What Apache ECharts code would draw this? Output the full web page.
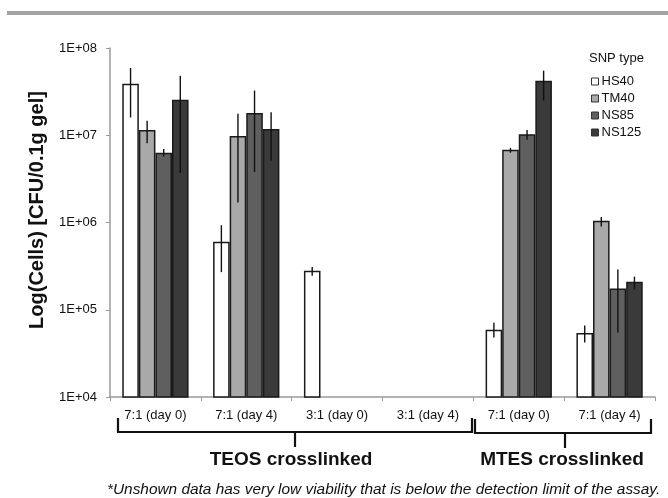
<!DOCTYPE html>
<html>
<head>
<meta charset="utf-8">
<script src="https://cdn.jsdelivr.net/npm/echarts@6/dist/echarts.min.js"></script>
<style>
  html, body { margin: 0; padding: 0; background: #fff; }
  #chart { width: 668px; height: 498px; }
</style>
</head>
<body>
<div id="chart"></div>
<script>
// Sample groups along the x axis
const categories = ['7:1 (day 0)', '7:1 (day 4)', '3:1 (day 0)', '3:1 (day 4)', '7:1 (day 0)', '7:1 (day 4)'];

// Silica nanoparticle types
const snpTypes = ['HS40', 'TM40', 'NS85', 'NS125'];

// Mean viable cell counts (CFU / 0.1 g gel); null = below detection limit
const hs40  = [3.9e7, 6.0e5, 2.8e5, null, 5.9e4, 5.4e4];
const tm40  = [1.15e7, 9.8e6, null, null, 6.8e6, 1.05e6];
const ns85  = [6.3e6, 1.8e7, null, null, 1.03e7, 1.75e5];
const ns125 = [2.55e7, 1.18e7, null, null, 4.2e7, 2.1e5];

// Error bar extents (low, high) per series
const hs40Low   = [1.6e7, 2.7e5, 2.45e5, null, 4.8e4, 4.2e4];
const hs40High  = [5.9e7, 9.3e5, 3.1e5, null, 7.1e4, 6.6e4];
const tm40Low   = [8.1e6, 1.7e6, null, null, 6.3e6, 9.0e5];
const tm40High  = [1.47e7, 1.76e7, null, null, 7.15e6, 1.16e6];
const ns85Low   = [5.7e6, 3.8e6, null, null, 8.9e6, 5.5e4];
const ns85High  = [6.95e6, 3.25e7, null, null, 1.15e7, 2.9e5];
const ns125Low  = [3.7e6, 5.1e6, null, null, 2.5e7, 1.7e5];
const ns125High = [4.8e7, 1.84e7, null, null, 5.5e7, 2.4e5];

// Y axis decade labels
const yTickLabels = ['1E+04', '1E+05', '1E+06', '1E+07', '1E+08'];

const seriesValues = [hs40, tm40, ns85, ns125];
const seriesLow = [hs40Low, tm40Low, ns85Low, ns125Low];
const seriesHigh = [hs40High, tm40High, ns85High, ns125High];
const fills = ['#ffffff', '#a9a9a9', '#5f5f5f', '#3a3a3a'];

const FONT = 'Arial, "Liberation Sans", sans-serif';
const CAT_GAP = 0.27;

const chart = echarts.init(document.getElementById('chart'), null, { renderer: 'canvas' });

const barSeries = snpTypes.map((name, i) => ({
  name: name,
  type: 'bar',
  data: seriesValues[i],
  barGap: '0%',
  barCategoryGap: (CAT_GAP * 100) + '%',
  itemStyle: { color: fills[i], borderColor: '#1a1a1a', borderWidth: 1.5 },
  emphasis: { disabled: true },
  z: 2
}));

// Vertical error bars centred on each bar
const errorSeries = snpTypes.map((name, i) => ({
  type: 'custom',
  name: name + ' error',
  data: categories.map((c, k) => [k, seriesLow[i][k], seriesHigh[i][k]]),
  z: 5,
  silent: true,
  renderItem: function (params, api) {
    const lo = api.value(1), hi = api.value(2);
    if (lo == null || hi == null || isNaN(lo) || isNaN(hi)) return null;
    const k = api.value(0);
    const band = api.size([1, 1])[0];
    const w = band * (1 - CAT_GAP) / snpTypes.length;
    const pLo = api.coord([k, lo]);
    const pHi = api.coord([k, hi]);
    const x = pLo[0] + (i - (snpTypes.length - 1) / 2) * w;
    return {
      type: 'line',
      shape: { x1: x, y1: pLo[1], x2: x, y2: pHi[1] },
      style: { stroke: '#111', lineWidth: 1.4 }
    };
  }
}));

// Square bracket grouping the categories of one crosslinker, with a centre tick
function brace(x1, x2, xm, yTop, yLine, yTip) {
  return [
    {
      type: 'polyline',
      shape: { points: [[x1, yTop], [x1, yLine], [x2, yLine], [x2, yTop]] },
      style: { stroke: '#111', lineWidth: 2.2, fill: null }
    },
    { type: 'line', shape: { x1: xm, y1: yLine, x2: xm, y2: yTip }, style: { stroke: '#111', lineWidth: 2.2 } }
  ];
}

const option = {
  animation: false,
  backgroundColor: '#ffffff',
  grid: { left: 110, top: 48, right: 13, bottom: 101, containLabel: false },
  legend: {
    data: snpTypes,
    orient: 'vertical',
    left: 586,
    top: 70,
    icon: 'rect',
    itemWidth: 7,
    itemHeight: 7,
    itemGap: 4,
    itemStyle: { borderColor: '#333', borderWidth: 1 },
    textStyle: { fontFamily: FONT, fontSize: 13, color: '#111', padding: [0, 0, 0, -2] },
    selectedMode: false
  },
  xAxis: {
    type: 'category',
    data: categories,
    axisLine: { lineStyle: { color: '#9a9a9a', width: 1.5 } },
    axisTick: { show: true, length: 4, lineStyle: { color: '#9a9a9a' } },
    axisLabel: { fontFamily: FONT, fontSize: 13, color: '#111', margin: 12 },
    splitLine: { show: false }
  },
  yAxis: {
    type: 'log',
    logBase: 10,
    min: 1e4,
    max: 1e8,
    axisLine: { show: true, lineStyle: { color: '#9a9a9a', width: 1.5 } },
    axisTick: { show: true, length: 4, lineStyle: { color: '#9a9a9a' } },
    axisLabel: {
      fontFamily: FONT, fontSize: 13, color: '#111', margin: 13,
      formatter: function (v) {
        const e = Math.round(Math.log10(v));
        return yTickLabels[e - 4];
      }
    },
    splitLine: { show: false }
  },
  series: barSeries.concat(errorSeries),
  graphic: [
    { type: 'rect', left: 7, top: 11, shape: { width: 661, height: 4 }, style: { fill: '#a3a3a3' } },
    { type: 'text', left: 589, top: 52, style: { text: 'SNP type', fontFamily: FONT, fontSize: 13, fill: '#111' } },
    // y axis title, rotated to read bottom-to-top
    { type: 'text', x: 37, y: 210, rotation: Math.PI / 2,
      style: { text: 'Log(Cells) [CFU/0.1g gel]', fontFamily: FONT, fontSize: 20, fontWeight: 'bold', fill: '#111', align: 'center', verticalAlign: 'middle' } }
  ].concat(
    brace(118, 472, 295, 418, 432, 447),
    brace(475, 651, 565, 419, 433, 448),
    [
      { type: 'text', x: 291, y: 460, style: { text: 'TEOS crosslinked', fontFamily: FONT, fontSize: 19, fontWeight: 'bold', fill: '#111', align: 'center', verticalAlign: 'middle' } },
      { type: 'text', x: 562, y: 460, style: { text: 'MTES crosslinked', fontFamily: FONT, fontSize: 19, fontWeight: 'bold', fill: '#111', align: 'center', verticalAlign: 'middle' } },
      { type: 'text', x: 107, y: 490, style: { text: '*Unshown data has very low viability that is below the detection limit of the assay.', fontFamily: FONT, fontSize: 15.4, fontStyle: 'italic', fill: '#111', align: 'left', verticalAlign: 'middle' } }
    ]
  )
};

chart.setOption(option);
</script>
</body>
</html>
